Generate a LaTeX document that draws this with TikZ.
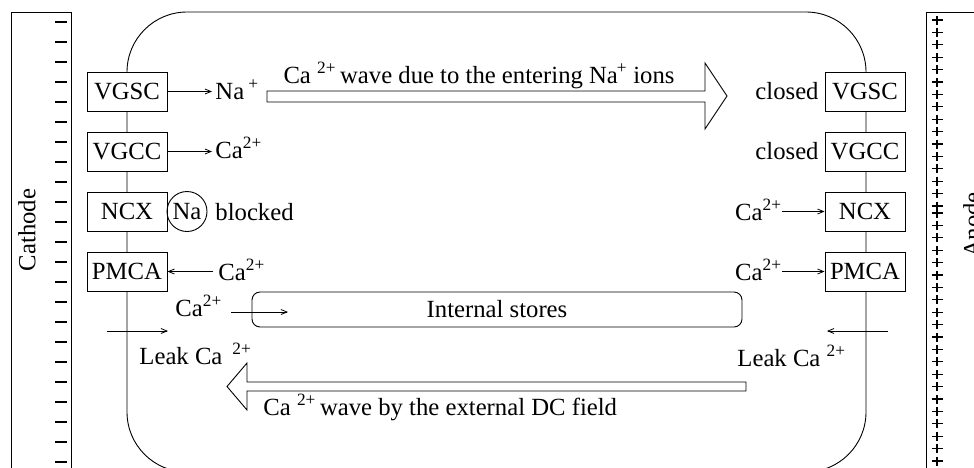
\documentclass[tikz,border=0pt]{standalone}
\usepackage{fontspec}
\setmainfont{Liberation Serif}
\usetikzlibrary{arrows.meta}
\begin{document}
\begin{tikzpicture}[x=1pt,y=-1pt,
  line width=0.9pt,
  every node/.style={font=\fontsize{24.7}{29}\selectfont, inner sep=0pt},
  chan/.style={draw, fill=white, minimum width=80pt, minimum height=39pt},
  flow/.style={-{Straight Barb[length=6pt,width=5pt]}, line width=0.8pt},
  txt/.style={anchor=base west},
  txtr/.style={anchor=base east},
  sign/.style={line width=1.1pt}]
\clip (0,0) rectangle (974,467);

% cathode plate with its minus signs
\draw (11,490) -- (11,12) -- (71,12) -- (71,490);
\foreach \k in {0,...,22} \draw[sign] (55,22+20*\k) -- (67,22+20*\k);
\node[rotate=90] (cathode) at (27,230) {Cathode};

% anode plate with its plus signs
\draw (926,490) -- (926,12) -- (995,12);
\foreach \k in {0,...,15} \draw[sign] (931.5,20+12.4*\k) -- (942.5,20+12.4*\k) (937,15.5+12.4*\k) -- (937,24.5+12.4*\k);
\foreach \k in {0,...,20} \draw[sign] (931.5,213+12.4*\k) -- (942.5,213+12.4*\k) (937,208.5+12.4*\k) -- (937,217.5+12.4*\k);
\node[rotate=90] (anode) at (972,225) {Anode};

% cell membrane
\draw[rounded corners=60pt] (127,300) -- (127,12) -- (866,12) -- (866,472) -- (127,472) -- cycle;

% channels and pumps, left side
\node[chan] (vgscL) at (127,91.5) {VGSC};
\node[chan] (vgccL) at (127,151.5) {VGCC};
\node[chan] (ncxL) at (127,211.5) {NCX};
\node[chan] (pmcaL) at (127,271.5) {PMCA};

% channels and pumps, right side
\node[chan] (vgscR) at (865,91.5) {VGSC};
\node[chan] (vgccR) at (865,151.5) {VGCC};
\node[chan] (ncxR) at (865,211.5) {NCX};
\node[chan] (pmcaR) at (865,271.5) {PMCA};

% left side ion flows
\node[txt] (naL) at (215,99) {Na\,\textsuperscript{+}};
\draw[flow] (vgscL.east) -- ([xshift=-3pt]vgscL.east -| naL.west);
\node[txt] (caL1) at (215,158) {Ca\textsuperscript{2+}};
\draw[flow] (vgccL.east) -- ([xshift=-3pt]vgccL.east -| caL1.west);
\node[draw, circle, minimum size=40pt] (na) at (187,211.5) {Na};
\node[txt] (blk) at (215,220) {blocked};
\node[txt] (caL2) at (218,280) {Ca\textsuperscript{2+}};
\draw[flow] ([xshift=-5pt]caL2.west |- pmcaL) -- (pmcaL.east);

% right side ion flows
\node[txtr] (clA) at (819,99) {closed};
\node[txtr] (clB) at (819,159) {closed};
\node[txtr] (caR1) at (782,220) {Ca\textsuperscript{2+}};
\draw[flow] (caR1.east |- ncxR) -- (ncxR.west);
\node[txtr] (caR2) at (782,280) {Ca\textsuperscript{2+}};
\draw[flow] (caR2.east |- pmcaR) -- (pmcaR.west);

% internal stores
\node[draw, rounded corners=8pt, minimum width=490pt, minimum height=35pt] (stores) at (497,309.5) {Internal stores\hspace{28pt}};
\node[txt] (caS) at (175,316) {Ca\textsuperscript{2+}};
\coordinate (sIn) at (288,312);
\draw[flow] (caS.east |- sIn) ++(9,0) -- (sIn);

% leak currents
\coordinate (lkL0) at (107,331);
\coordinate (lkL1) at (168,331);
\draw[flow] (lkL0) -- (lkL1);
\node[txt] (leakL) at (139,364) {Leak Ca\hspace{10pt}\textsuperscript{2+}};
\coordinate (lkR0) at (888,331);
\coordinate (lkR1) at (827,331);
\draw[flow] (lkR0) -- (lkR1);
\node[txt] (leakR) at (737,366) {Leak Ca \textsuperscript{2+}};

% calcium waves
\draw (267,91) -- (705,91) -- (705,63) -- (727,96) -- (705,129) -- (705,102) -- (267,102) -- cycle;
\node[anchor=base] (waveT) at (479,83) {Ca \textsuperscript{2+}\,wave due to the entering Na\kern-1pt\textsuperscript{+} ions};
\draw (746,382) -- (247,382) -- (247,363) -- (227,386.5) -- (247,410) -- (247,391) -- (746,391) -- cycle;
\node[txt] (waveB) at (263,415) {Ca \textsuperscript{2+}\,wave by the external DC field};
\end{tikzpicture}
\end{document}
